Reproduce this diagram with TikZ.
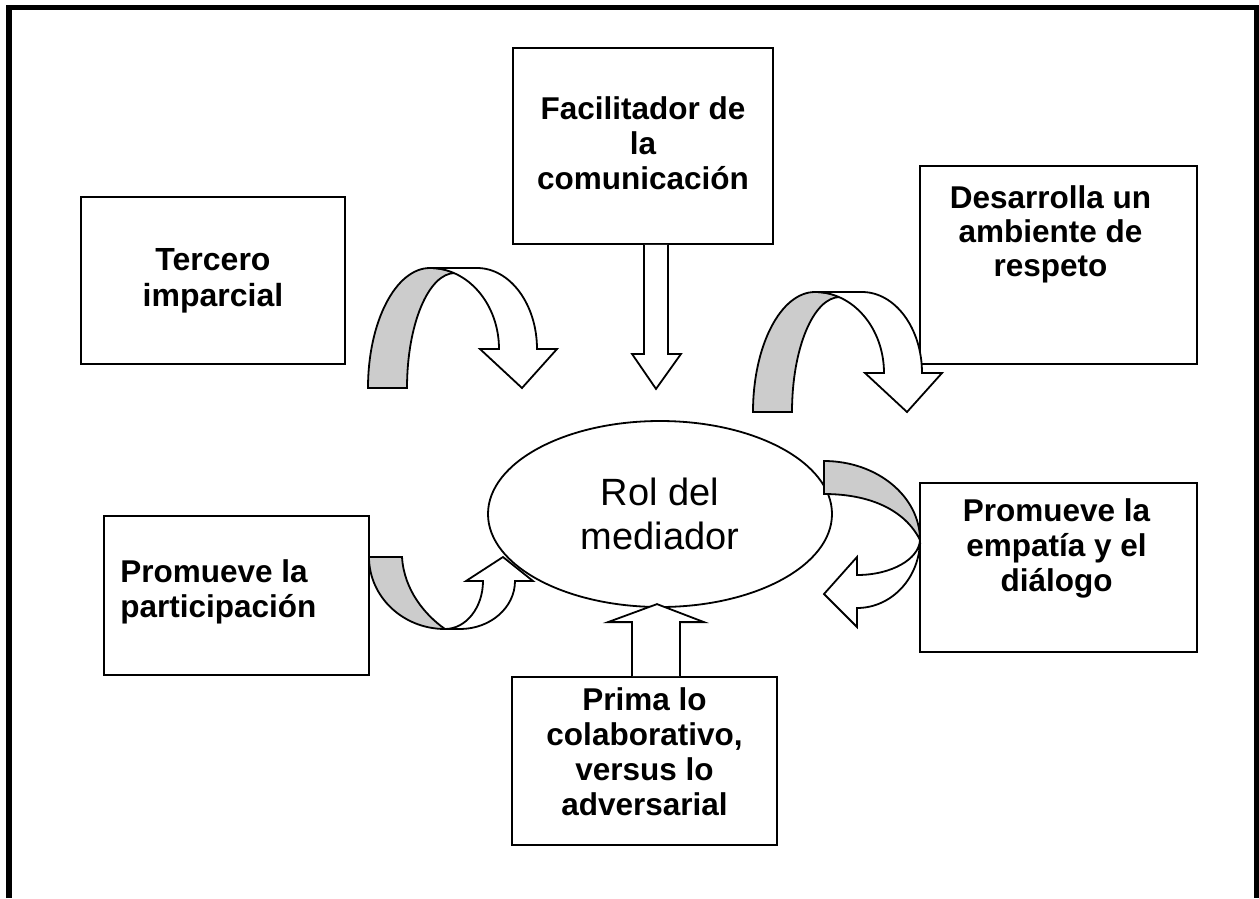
\documentclass[tikz,border=0pt]{standalone}
\usepackage{fontspec}
\setmainfont{Liberation Sans}
\usetikzlibrary{shapes.geometric,positioning}

\tikzset{
  box/.style={draw, line width=1.8pt, inner sep=0pt, align=center,
    font=\bfseries\fontsize{31.5}{35}\selectfont},
  txt/.style={inner sep=0pt, align=center, font=\bfseries\fontsize{31.5}{35}\selectfont},
  blockarrow/.style={draw, line width=1.8pt, fill=white, line join=miter},
  shaded/.style={draw, line width=1.8pt, fill=gray!40},
  pics/bendarrow/.style={code={
    \draw[shaded] (0,0) -- (39,0) .. controls (39,-63.5) and (60.5,-115) .. (87,-115)
      .. controls (79,-118.5) and (70,-120) .. (62,-120) .. controls (27.8,-120) and (0,-66.3) .. (0,0) -- cycle;
    \draw[blockarrow] (62,-120) -- (109,-120) .. controls (142.1,-120) and (169,-83.7) .. (169,-39)
      -- (189,-39) -- (154,0) -- (112,-39) -- (131,-39) .. controls (131,-83.7) and (100.1,-120) .. (62,-120) -- cycle;
  }}
}

\begin{document}
\begin{tikzpicture}[x=1pt,y=-1pt]
    \useasboundingbox (0,0) rectangle (1259,898);
    \draw[line width=5.5pt] (9,898) -- (9,7.5) -- (1256.5,7.5) -- (1256.5,898);

    % centro
    \node[draw, ellipse, line width=1.8pt, minimum width=344, minimum height=186, inner sep=0pt,
      align=center, font=\fontsize{38}{44}\selectfont] (rol) at (660,514) {Rol del\\mediador};

    % cajas
    \node[box, minimum width=264, minimum height=167, font=\bfseries\fontsize{32}{36}\selectfont]
      (terc) at (213,280.5) {Tercero\\imparcial};
    \node[box, minimum width=260, minimum height=196] (fac) at (643,146) {};
    \node[txt, below=49pt of fac.north] (factxt) {Facilitador de\\la\\comunicación};
    \node[box, minimum width=277, minimum height=198] (desa) at (1058.5,265) {};
    \node[txt, below=20pt of desa.north, xshift=-8pt, font=\bfseries\fontsize{31.5}{34}\selectfont]
      (desatxt) {Desarrolla un\\ambiente de\\respeto};
    \node[box, minimum width=277, minimum height=169] (empa) at (1058.5,567.5) {};
    \node[txt, below=16pt of empa.north, xshift=-2pt] (empatxt) {Promueve la\\empatía y el\\diálogo};
    \node[box, minimum width=265, minimum height=159] (part) at (236.5,595.5) {};
    \node[txt, align=left, right=17pt of part.west, yshift=4pt] (parttxt) {Promueve la\\participación};
    \node[box, minimum width=265, minimum height=168] (prima) at (644.5,761) {};
    \node[txt, below=11pt of prima.north] (primatxt) {Prima lo\\colaborativo,\\versus lo\\adversarial};

    % flechas rectas
    \draw[blockarrow] ([xshift=1pt]fac.south) -- ++(0,109) -- ++(-12,0) -- ++(24,35) -- ++(25,-35)
      -- ++(-13,0) -- ++(0,-109);
    \draw[blockarrow] ([xshift=-12.5pt]prima.north) -- ++(0,-54) -- ++(-24,0) -- ++(49,-18) -- ++(47,18)
      -- ++(-24,0) -- ++(0,54);

    % flechas curvas
    \pic at (368,388) {bendarrow};
    \pic at (753,412) {bendarrow};

    \draw[shaded] (824,461) .. controls (877,461) and (920,496.4) .. (920,540)
      .. controls (905,510) and (870,494) .. (824,494) -- cycle;
    \draw[blockarrow] (920,540) .. controls (920,577.6) and (891.8,608) .. (857,608) -- (857,627)
      -- (824,594) -- (857,557) -- (857,575) .. controls (891.2,575) and (919,559.3) .. (920,540) -- cycle;

    \draw[shaded] (369,557) -- (402,557) .. controls (404,590) and (425,615) .. (445,629)
      .. controls (403,629) and (369,596.8) .. (369,557) -- cycle;
    \draw[blockarrow] (445,629) -- (460,629) .. controls (490.4,629) and (515,607.5) .. (515,581)
      -- (533,581) -- (503,557) -- (466,581) -- (483,581) .. controls (483,607.5) and (466,629) .. (445,629) -- cycle;
\end{tikzpicture}
\end{document}
